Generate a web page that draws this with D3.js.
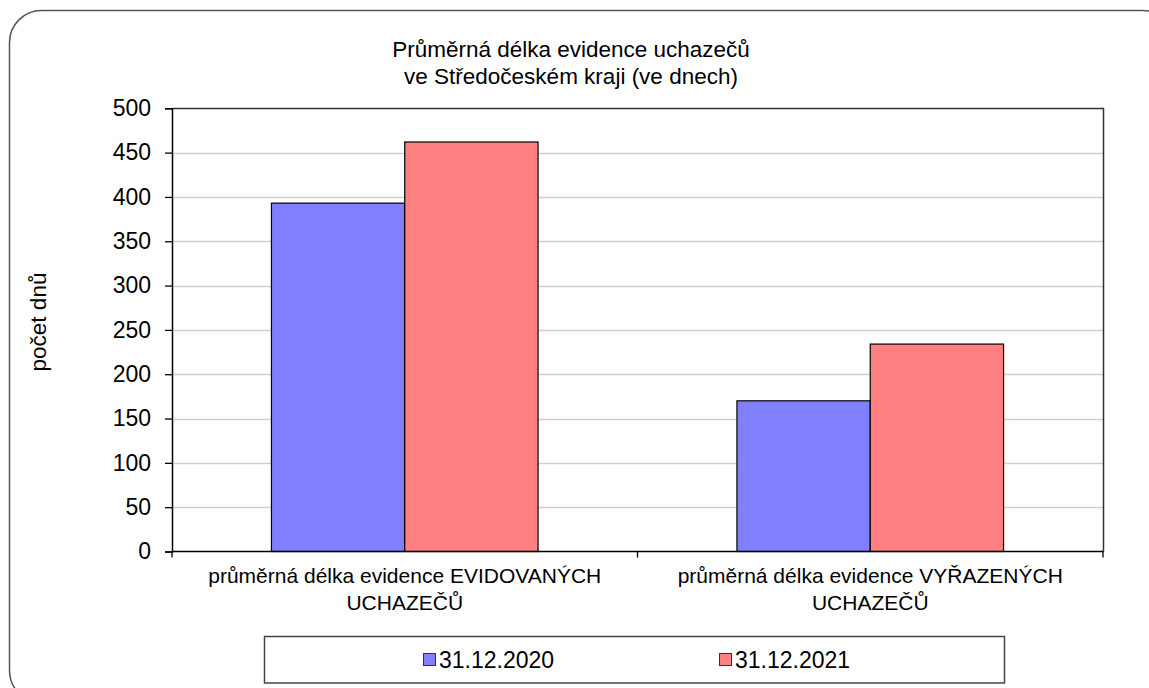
<!DOCTYPE html>
<html>
<head>
<meta charset="utf-8">
<script src="https://cdn.jsdelivr.net/npm/d3@7"></script>
<style>
  html, body { margin: 0; padding: 0; background: #fff; }
  svg { display: block; font-family: "Liberation Sans", Arial, sans-serif; }
</style>
</head>
<body>
<svg id="chart" width="1149" height="688"></svg>
<script>
const categories = [
  ["průměrná délka evidence EVIDOVANÝCH", "UCHAZEČŮ"],
  ["průměrná délka evidence VYŘAZENÝCH", "UCHAZEČŮ"]
];
const seriesNames = ["31.12.2020", "31.12.2021"];
const seriesColors = ["#8080FF", "#FF8080"];
const values2020 = [393, 170];
const values2021 = [462, 234];
const yTicks = [0, 50, 100, 150, 200, 250, 300, 350, 400, 450, 500];
const titleLines = ["Průměrná délka evidence uchazečů", "ve Středočeském kraji (ve dnech)"];
const yAxisTitle = "počet dnů";

const series = [values2020, values2021];
const svg = d3.select("#chart");

// outer rounded frame
svg.append("rect")
  .attr("x", 9.5).attr("y", 10.5)
  .attr("width", 1165).attr("height", 692)
  .attr("rx", 32).attr("ry", 32)
  .attr("fill", "#fff").attr("stroke", "#555").attr("stroke-width", 1.5);

const plot = { left: 172, right: 1103, top: 108.3, bottom: 551.5 };

const y = d3.scaleLinear().domain([0, 500]).range([plot.bottom, plot.top]);
const x0 = d3.scaleBand().domain(d3.range(categories.length)).range([plot.left, plot.right]).padding(0);
const x1 = d3.scaleBand().domain(d3.range(series.length)).range([0, x0.bandwidth()]).paddingInner(0).paddingOuter(0.746);

// gridlines
svg.append("g").selectAll("line").data(yTicks.filter(d => d > 0 && d < 500)).join("line")
  .attr("x1", plot.left).attr("x2", plot.right)
  .attr("y1", d => Math.round(y(d)) + 0.5).attr("y2", d => Math.round(y(d)) + 0.5)
  .attr("stroke", "#cfcfcf").attr("stroke-width", 1.5);

// plot area border (top and right)
svg.append("path")
  .attr("d", `M${plot.left},${Math.round(plot.top)+0.5}H${plot.right+0.5}V${plot.bottom}`)
  .attr("fill", "none").attr("stroke", "#333").attr("stroke-width", 1.5);

// bars
series.forEach((vals, si) => {
  svg.append("g").selectAll("rect").data(vals).join("rect")
    .attr("x", (d, i) => x0(i) + x1(si))
    .attr("y", d => y(d))
    .attr("width", x1.bandwidth())
    .attr("height", d => y(0) - y(d))
    .attr("fill", seriesColors[si])
    .attr("stroke", "#000").attr("stroke-width", 1.2);
});

// y axis
const yAxis = d3.axisLeft(y).tickValues(yTicks).tickSize(7).tickPadding(14).tickFormat(d3.format("d"));
const gy = svg.append("g").attr("transform", `translate(${plot.left},0)`).call(yAxis);
gy.select(".domain").attr("stroke", "#000").attr("stroke-width", 1.5);
gy.selectAll(".tick line").attr("stroke", "#000").attr("stroke-width", 1.3);
gy.selectAll(".tick text").attr("font-size", 23).attr("fill", "#000")
  .attr("font-family", "'Liberation Sans', Arial, sans-serif");

// x axis
const xEdges = d3.scaleLinear().domain([0, categories.length]).range([plot.left, plot.right]);
const gx = svg.append("g").attr("transform", `translate(0,${plot.bottom})`);
gx.append("line").attr("x1", plot.left).attr("x2", plot.right + 0.5).attr("y1", 0).attr("y2", 0)
  .attr("stroke", "#000").attr("stroke-width", 1.5);
gx.selectAll("line.tk").data(d3.range(categories.length + 1)).join("line").attr("class", "tk")
  .attr("x1", d => xEdges(d)).attr("x2", d => xEdges(d))
  .attr("y1", 0).attr("y2", 6).attr("stroke", "#000").attr("stroke-width", 1.3);

// category labels
categories.forEach((lines, i) => {
  const t = svg.append("text")
    .attr("x", x0(i) + x0.bandwidth() / 2)
    .attr("y", 583)
    .attr("text-anchor", "middle")
    .attr("font-size", 21).attr("fill", "#000");
  lines.forEach((ln, j) => {
    t.append("tspan").attr("x", x0(i) + x0.bandwidth() / 2).attr("dy", j === 0 ? 0 : 27).text(ln);
  });
});

// title
const title = svg.append("text").attr("text-anchor", "middle").attr("font-size", 22.5).attr("fill", "#000");
titleLines.forEach((ln, j) => {
  title.append("tspan").attr("x", 571).attr("y", 57 + j * 27).text(ln);
});

// y axis title
svg.append("text")
  .attr("transform", "translate(46,322) rotate(-90)")
  .attr("text-anchor", "middle")
  .attr("font-size", 22.5).attr("fill", "#000")
  .text(yAxisTitle);

// legend
const lg = svg.append("g");
lg.append("rect").attr("x", 264.5).attr("y", 636.5).attr("width", 740).attr("height", 46.5)
  .attr("fill", "#fff").attr("stroke", "#444").attr("stroke-width", 1.5);
const legendX = [423, 719];
seriesNames.forEach((name, i) => {
  lg.append("rect").attr("x", legendX[i] + 0.5).attr("y", 653.5).attr("width", 12).attr("height", 12)
    .attr("fill", seriesColors[i]).attr("stroke", "#333").attr("stroke-width", 1);
  lg.append("text").attr("x", legendX[i] + 16).attr("y", 668)
    .attr("font-size", 23).attr("fill", "#000").text(name);
});
</script>
</body>
</html>
